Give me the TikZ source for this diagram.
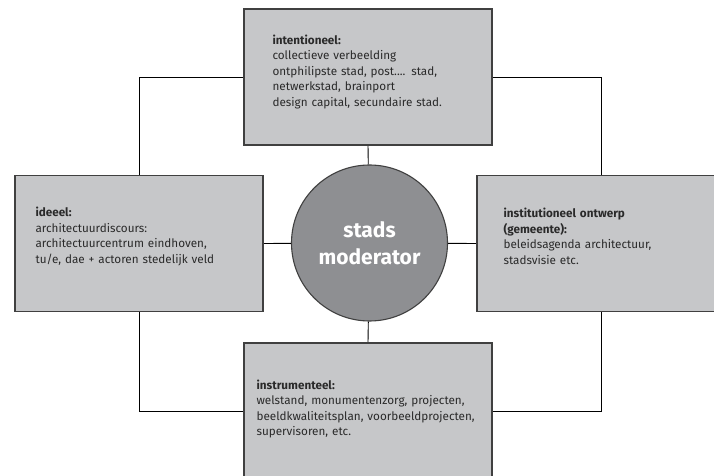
\documentclass[tikz,border=0pt]{standalone}
\usepackage{fontspec}
\setmainfont{Fira Sans}
\begin{document}
\begin{tikzpicture}[x=1pt,y=1pt,
  box/.style={draw=boxline,line width=1.3pt,fill=boxfill,minimum width=248pt,minimum height=136pt,inner sep=0pt},
  txt/.style={anchor=base west,inner sep=0pt,text width=240pt,align=left,text=txtcol,font=\fontsize{11.7}{15.5}\selectfont},
  conn/.style={draw=black,line width=0.9pt}]
\definecolor{boxfill}{HTML}{C6C7C9}
\definecolor{boxline}{HTML}{404040}
\definecolor{circfill}{HTML}{8E8F92}
\definecolor{txtcol}{HTML}{2A2A2A}
\useasboundingbox (0,0) rectangle (714,476);
\clip (0,0) rectangle (714,476);
\fill[white] (0,0) rectangle (714,476);
% boxes
\node[box] (top) at (368,399) {};
\node[box] (left) at (139,232.5) {};
\node[box] (right) at (601,232.5) {};
\node[box] (bottom) at (368,65) {};
\node[circle,draw=boxline,line width=1.1pt,fill=circfill,minimum size=156pt,inner sep=0pt] (mod) at (369.5,233) {};
% connectors
\draw[conn] (top.west) -| (left.north);
\draw[conn] (top.east) -| (right.north);
\draw[conn] (left.south) |- (bottom.west);
\draw[conn] (right.south) |- (bottom.east);
\draw[conn] (top.south) -- (mod);
\draw[conn] (bottom.north) -- (mod);
\draw[conn] (left.east) -- (mod);
\draw[conn] (right.west) -- (mod);
% redraw boxes over lines
\node[box] at (top) {};
\node[box] at (left) {};
\node[box] at (right) {};
\node[box] at (bottom) {};
% texts
\node[txt] (ttop) at ([shift={(29,-36)}]top.north west) {\textbf{intentioneel:}\\collectieve verbeelding\\ontphilipste stad, post.... stad,\\netwerkstad, brainport\\design capital, secundaire stad.};
\node[txt] (tleft) at ([shift={(21,-42)}]left.north west) {\textbf{ideeel:}\\architectuurdiscours:\\architectuurcentrum eindhoven,\\tu/e, dae + actoren stedelijk veld};
\node[txt] (tright) at ([shift={(27,-43)}]right.north west) {\textbf{institutioneel ontwerp}\\\textbf{(gemeente):}\\beleidsagenda architectuur,\\stadsvisie etc.};
\node[txt] (tbottom) at ([shift={(13,-47)}]bottom.north west) {\textbf{instrumenteel:}\\welstand, monumentenzorg, projecten,\\beeldkwaliteitsplan, voorbeeldprojecten,\\supervisoren, etc.};
\node[align=center,text=white,font=\fontsize{21}{27}\selectfont\bfseries,inner sep=0pt] (mtxt) at (mod) {stads\\moderator};
\end{tikzpicture}
\end{document}
